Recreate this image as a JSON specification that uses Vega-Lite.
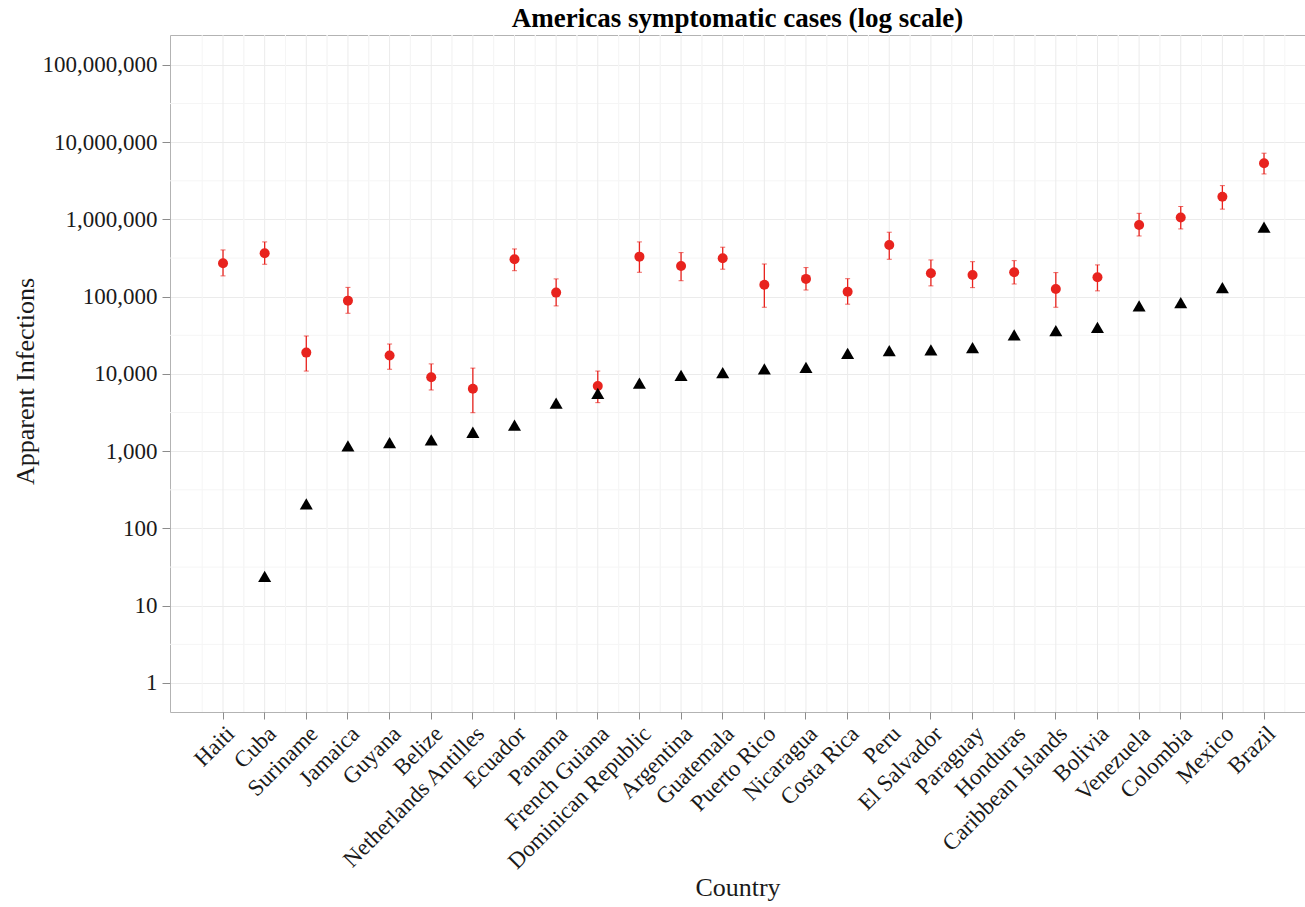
{
  "$schema": "https://vega.github.io/schema/vega-lite/v6.json",
  "width": 1135,
  "height": 677,
  "autosize": {"type": "none"},
  "padding": {"left": 170, "top": 35, "right": 0, "bottom": 195},
  "background": "white",
  "title": {
    "text": "Americas symptomatic cases (log scale)",
    "font": "Liberation Serif",
    "fontSize": 27,
    "fontWeight": "bold",
    "color": "black",
    "anchor": "middle",
    "frame": "group",
    "offset": 2
  },
  "datasets": {
    "countries": [
      {"country": "Haiti", "estimate": 271000, "lower": 186000, "upper": 403000, "reported": null},
      {"country": "Cuba", "estimate": 365000, "lower": 263000, "upper": 512000, "reported": 24},
      {"country": "Suriname", "estimate": 18900, "lower": 10900, "upper": 31000, "reported": 208},
      {"country": "Jamaica", "estimate": 88900, "lower": 61000, "upper": 132000, "reported": 1170},
      {"country": "Guyana", "estimate": 17300, "lower": 11500, "upper": 24400, "reported": 1290},
      {"country": "Belize", "estimate": 9060, "lower": 6200, "upper": 13500, "reported": 1400},
      {"country": "Netherlands Antilles", "estimate": 6450, "lower": 3150, "upper": 11900, "reported": 1760},
      {"country": "Ecuador", "estimate": 305000, "lower": 217000, "upper": 415000, "reported": 2170},
      {"country": "Panama", "estimate": 113000, "lower": 76000, "upper": 170000, "reported": 4180},
      {"country": "French Guiana", "estimate": 7000, "lower": 4250, "upper": 10900, "reported": 5600},
      {"country": "Dominican Republic", "estimate": 330000, "lower": 207000, "upper": 512000, "reported": 7600},
      {"country": "Argentina", "estimate": 250000, "lower": 161000, "upper": 372000, "reported": 9600},
      {"country": "Guatemala", "estimate": 315000, "lower": 227000, "upper": 437000, "reported": 10400},
      {"country": "Puerto Rico", "estimate": 143000, "lower": 73000, "upper": 265000, "reported": 11600},
      {"country": "Nicaragua", "estimate": 170000, "lower": 122000, "upper": 238000, "reported": 12200},
      {"country": "Costa Rica", "estimate": 116000, "lower": 80000, "upper": 171000, "reported": 18500},
      {"country": "Peru", "estimate": 468000, "lower": 305000, "upper": 683000, "reported": 20000},
      {"country": "El Salvador", "estimate": 201000, "lower": 138000, "upper": 299000, "reported": 20500},
      {"country": "Paraguay", "estimate": 191000, "lower": 131000, "upper": 284000, "reported": 21900},
      {"country": "Honduras", "estimate": 207000, "lower": 146000, "upper": 293000, "reported": 32000},
      {"country": "Caribbean Islands", "estimate": 126000, "lower": 73000, "upper": 205000, "reported": 36400},
      {"country": "Bolivia", "estimate": 179000, "lower": 119000, "upper": 258000, "reported": 40000},
      {"country": "Venezuela", "estimate": 849000, "lower": 611000, "upper": 1200000, "reported": 76000},
      {"country": "Colombia", "estimate": 1060000, "lower": 754000, "upper": 1470000, "reported": 84000},
      {"country": "Mexico", "estimate": 1970000, "lower": 1360000, "upper": 2740000, "reported": 131000},
      {"country": "Brazil", "estimate": 5330000, "lower": 3880000, "upper": 7200000, "reported": 793000}
    ],
    "yminor": [
      {"v": 3.1623}, {"v": 31.623}, {"v": 316.23}, {"v": 3162.3},
      {"v": 31623}, {"v": 316228}, {"v": 3162278}, {"v": 31622777}
    ]
  },
  "config": {
    "font": "Liberation Serif",
    "view": {"stroke": "#b3b3b3", "strokeWidth": 1},
    "axis": {
      "labelFont": "Liberation Serif",
      "titleFont": "Liberation Serif",
      "labelColor": "#1a1a1a",
      "titleColor": "#1a1a1a",
      "titleFontWeight": "normal",
      "domain": false,
      "tickColor": "#8c8c8c",
      "gridColor": "#ebebeb",
      "gridWidth": 1
    }
  },
  "layer": [
    {
      "data": {"name": "yminor"},
      "mark": {"type": "rule", "color": "#f5f5f5", "strokeWidth": 1},
      "encoding": {
        "y": {
          "field": "v", "type": "quantitative", "title": "Apparent Infections",
          "scale": {"type": "log", "domain": [0.421, 244000000], "nice": false, "zero": false},
          "axis": {
            "values": [1, 10, 100, 1000, 10000, 100000, 1000000, 10000000, 100000000],
            "format": ",",
            "labelFontSize": 23,
            "labelPadding": 5,
            "labelOverlap": false,
            "tickSize": 8,
            "grid": true,
            "titleFontSize": 26,
            "titleAngle": 270,
            "titleX": -137,
            "titleY": 346,
            "titleBaseline": "alphabetic"
          }
        }
      }
    },
    {
      "data": {"name": "countries"},
      "mark": {"type": "rule", "color": "#ebebeb", "strokeWidth": 1},
      "encoding": {
        "x": {
          "field": "country", "type": "nominal", "title": "Country", "bandPosition": 0.5,
          "scale": {"type": "band", "domain": ["Haiti", "Cuba", "Suriname", "Jamaica", "Guyana", "Belize", "Netherlands Antilles", "Ecuador", "Panama", "French Guiana", "Dominican Republic", "Argentina", "Guatemala", "Puerto Rico", "Nicaragua", "Costa Rica", "Peru", "El Salvador", "Paraguay", "Honduras", "Caribbean Islands", "Bolivia", "Venezuela", "Colombia", "Mexico", "Brazil"], "paddingInner": 0, "paddingOuter": 0.6287, "align": 0.615, "round": false},
          "axis": {
            "labelAngle": -45,
            "labelAlign": "right",
            "labelBaseline": "top",
            "labelFontSize": 23,
            "labelPadding": 3,
            "labelLimit": 400,
            "labelOverlap": false,
            "tickSize": 7,
            "grid": false,
            "titleFontSize": 26,
            "titleY": 183,
            "titleBaseline": "alphabetic"
          }
        }
      }
    },
    {
      "data": {"name": "countries"},
      "mark": {"type": "rule", "color": "#f5f5f5", "strokeWidth": 1},
      "encoding": {
        "x": {"field": "country", "type": "nominal", "title": "Country", "bandPosition": 0}
      }
    },
    {
      "data": {"name": "countries"},
      "mark": {"type": "rule", "color": "#f5f5f5", "strokeWidth": 1},
      "encoding": {
        "x": {"field": "country", "type": "nominal", "title": "Country", "bandPosition": 1}
      }
    },
    {
      "data": {"name": "countries"},
      "mark": {"type": "rule", "color": "#e8231e", "strokeWidth": 1.3},
      "encoding": {
        "x": {"field": "country", "type": "nominal", "title": "Country"},
        "y": {"field": "lower", "type": "quantitative", "title": "Apparent Infections"},
        "y2": {"field": "upper"}
      }
    },
    {
      "data": {"name": "countries"},
      "mark": {"type": "tick", "color": "#e8231e", "size": 5, "thickness": 1},
      "encoding": {
        "x": {"field": "country", "type": "nominal", "title": "Country"},
        "y": {"field": "lower", "type": "quantitative", "title": "Apparent Infections"}
      }
    },
    {
      "data": {"name": "countries"},
      "mark": {"type": "tick", "color": "#e8231e", "size": 5, "thickness": 1},
      "encoding": {
        "x": {"field": "country", "type": "nominal", "title": "Country"},
        "y": {"field": "upper", "type": "quantitative", "title": "Apparent Infections"}
      }
    },
    {
      "data": {"name": "countries"},
      "mark": {"type": "point", "shape": "circle", "filled": true, "color": "#e8231e", "size": 100, "opacity": 1},
      "encoding": {
        "x": {"field": "country", "type": "nominal", "title": "Country"},
        "y": {"field": "estimate", "type": "quantitative", "title": "Apparent Infections"}
      }
    },
    {
      "data": {"name": "countries"},
      "mark": {"type": "point", "shape": "triangle-up", "filled": true, "color": "black", "size": 170, "opacity": 1},
      "encoding": {
        "x": {"field": "country", "type": "nominal", "title": "Country"},
        "y": {"field": "reported", "type": "quantitative", "title": "Apparent Infections"}
      }
    }
  ]
}
